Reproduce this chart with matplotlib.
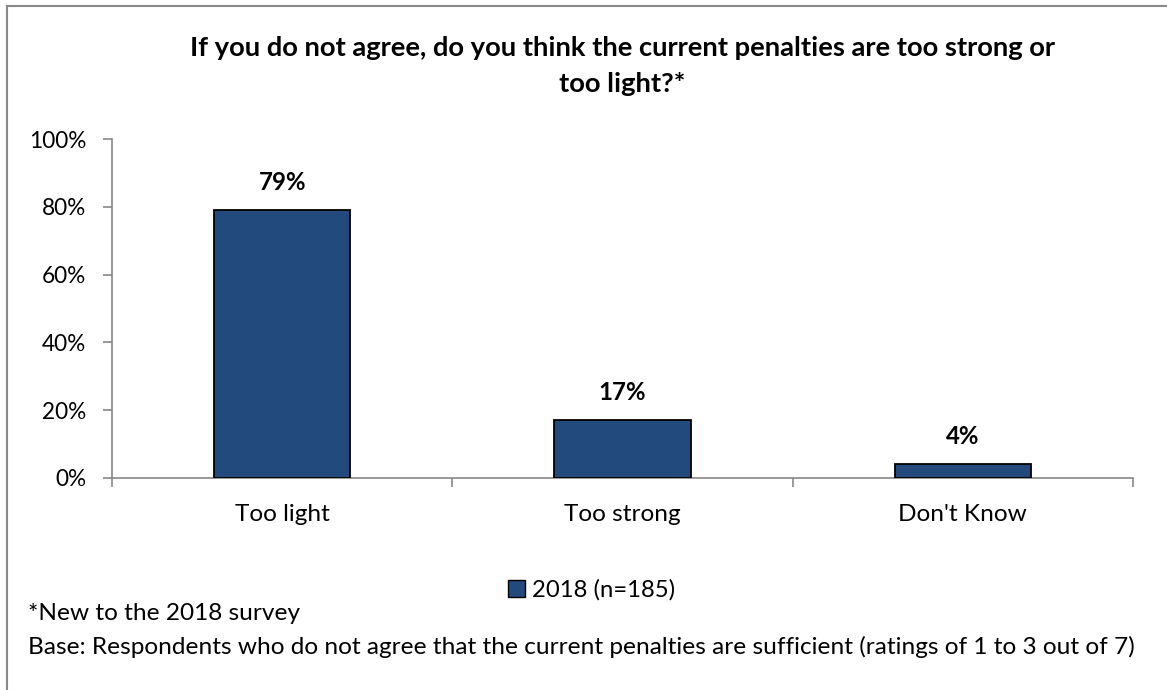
import matplotlib
matplotlib.use("Agg")
import matplotlib.pyplot as plt
from matplotlib.lines import Line2D
from matplotlib.patches import Patch
from matplotlib.ticker import FixedLocator, PercentFormatter

plt.rcParams['font.family'] = ['Lato', 'DejaVu Sans']

categories = ["Too light", "Too strong", "Don't Know"]
values = [79, 17, 4]
series_name = "2018 (n=185)"
yticks = [0, 20, 40, 60, 80, 100]
title = "If you do not agree, do you think the current penalties are too strong or\ntoo light?*"
note1 = "*New to the 2018 survey"
note2 = "Base: Respondents who do not agree that the current penalties are sufficient (ratings of 1 to 3 out of 7)"

W, H = 1167, 690
fig = plt.figure(figsize=(W / 100, H / 100), dpi=100)
fig.patch.set_facecolor("white")

ax = fig.add_axes([112 / W, 1 - 478 / H, (1133 - 112) / W, (478 - 139) / H])
bar_color = "#234A7D"
x = list(range(len(categories)))
bars = ax.bar(x, values, width=0.4, color=bar_color, edgecolor="black", linewidth=1.3, zorder=3)

ax.set_xlim(-0.5, len(categories) - 0.5)
ax.set_ylim(0, 100)
ax.set_yticks(yticks)
ax.yaxis.set_major_formatter(PercentFormatter(decimals=0))

ax.set_xticks(x)
ax.set_xticklabels(categories)
ax.tick_params(axis='x', which='major', length=0, pad=19, labelsize=17.6)
ax.xaxis.set_minor_locator(FixedLocator([i + 0.5 for i in range(len(categories))] + [-0.5]))
ax.tick_params(axis='x', which='minor', length=6.5, color="#888888", width=1.2)
ax.tick_params(axis='y', length=6.5, color="#888888", width=1.2, labelsize=16.3, pad=12)

for s in ["top", "right"]:
    ax.spines[s].set_visible(False)
for s in ["left", "bottom"]:
    ax.spines[s].set_color("#888888")
    ax.spines[s].set_linewidth(1.2)

for b, v in zip(bars, values):
    ax.annotate(f"{v}%", (b.get_x() + b.get_width() / 2, v), xytext=(0, 20),
                textcoords="offset points", ha="center", va="center",
                fontsize=17.3, fontweight="bold")

fig.text(622 / W, 1 - 66 / H, title, ha="center", va="center", fontsize=19.7,
         fontweight="bold", linespacing=1.55)

handle = Patch(facecolor=bar_color, edgecolor="black", linewidth=1.0)
fig.legend([handle], [series_name], loc="center", bbox_to_anchor=(592 / W, 1 - 590 / H),
           frameon=False, fontsize=17.2, handlelength=0.7, handleheight=0.7, handletextpad=0.3)

fig.text(28 / W, 1 - 613 / H, note1, ha="left", va="center", fontsize=17.6)
fig.text(28 / W, 1 - 647 / H, note2, ha="left", va="center", fontsize=17.6)

# outer frame (left and top edges visible)
fig.add_artist(Line2D([7 / W, 7 / W], [0, 1 - 6 / H], transform=fig.transFigure, color="#888888", linewidth=1.5))
fig.add_artist(Line2D([7 / W, 1], [1 - 6 / H, 1 - 6 / H], transform=fig.transFigure, color="#888888", linewidth=1.5))

fig.savefig("out.png", dpi=100)
